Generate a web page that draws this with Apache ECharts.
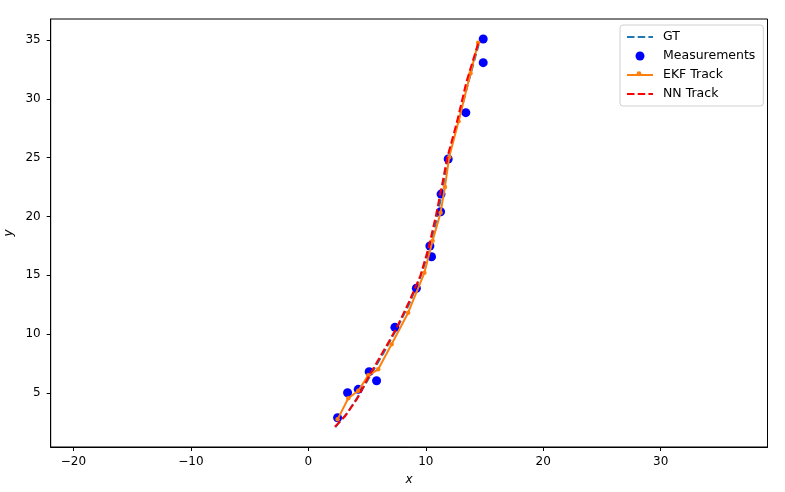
<!DOCTYPE html>
<html>
<head>
<meta charset="utf-8">
<script src="https://cdn.jsdelivr.net/npm/echarts@6/dist/echarts.min.js"></script>
<style>
html,body{margin:0;padding:0;background:#fff;}
#chart{width:785px;height:492px;}
</style>
</head>
<body>
<div id="chart"></div>
<script>
// ---- data ----
const xTicks = [-20, -10, 0, 10, 20, 30];
const yTicks = [5, 10, 15, 20, 25, 30, 35];

const gtX = [2.3, 3.3, 4.3, 5.3, 6.4, 7.5, 8.6, 9.6, 10.4, 11.0, 11.5, 12.0, 12.8, 13.6, 14.5];
const gtY = [2.1, 3.3, 4.8, 6.5, 8.4, 10.4, 12.6, 15.0, 17.5, 20.1, 22.7, 25.4, 28.2, 31.3, 34.6];

const measX = [2.49, 3.34, 4.25, 5.18, 5.81, 7.37, 9.20, 10.49, 10.35, 11.26, 11.30, 11.91, 13.41, 14.89, 14.89];
const measY = [2.90, 5.02, 5.31, 6.81, 6.04, 10.58, 13.90, 16.58, 17.49, 20.40, 21.90, 24.88, 28.82, 33.07, 35.08];

const ekfX = [2.49, 3.40, 4.25, 5.10, 5.95, 7.09, 8.50, 9.88, 10.58, 11.26, 11.63, 11.99, 12.79, 13.81, 14.46];
const ekfY = [2.76, 4.55, 5.19, 6.50, 7.01, 9.14, 11.82, 15.21, 17.94, 20.32, 22.50, 25.03, 28.10, 32.17, 34.77];

const nnX = [2.26, 3.15, 4.15, 5.25, 6.35, 7.45, 8.60, 9.55, 10.25, 10.85, 11.35, 11.85, 12.65, 13.45, 14.46];
const nnY = [2.13, 3.05, 4.50, 6.60, 8.50, 10.40, 12.80, 15.00, 17.40, 20.00, 22.50, 25.10, 28.00, 31.40, 34.70];

const xMin = -21.94, xMax = 39.1;
const yMin = 0.41, yMax = 36.78;

function pairs(xs, ys) { return xs.map((x, i) => [x, ys[i]]); }

const font = 'DejaVu Sans';
const legendLeft = 620, legendTop = 25, legendPadTop = 5.5, legendPadLeft = 6;
const itemW = 26, rowH = 12.5, itemGap = 6;

const chart = echarts.init(document.getElementById('chart'), null, {renderer: 'canvas'});
chart.setOption({
  animation: false,
  backgroundColor: '#fff',
  grid: {
    left: 50.7, top: 19, right: 17.5, bottom: 45,
    show: true, borderColor: '#000', borderWidth: 1, backgroundColor: 'transparent',
    containLabel: false, outerBoundsMode: 'none'
  },
  xAxis: {
    type: 'value', min: xMin, max: xMax,
    name: 'x', nameLocation: 'middle', nameGap: 27,
    nameTextStyle: {fontFamily: font, fontSize: 12, fontStyle: 'italic', color: '#000'},
    axisLine: {show: true, onZero: false, lineStyle: {color: '#000', width: 1}},
    axisTick: {show: true, length: 4, lineStyle: {color: '#000'}, customValues: xTicks},
    axisLabel: {fontFamily: font, fontSize: 12, color: '#000', margin: 9, customValues: xTicks,
      formatter: v => (v < 0 ? '\u2212' + Math.abs(v) : String(v))},
    splitLine: {show: false}
  },
  yAxis: {
    type: 'value', min: yMin, max: yMax,
    name: 'y', nameLocation: 'middle', nameGap: 32, nameRotate: 90,
    nameTextStyle: {fontFamily: font, fontSize: 12, fontStyle: 'italic', color: '#000'},
    axisLine: {show: true, onZero: false, lineStyle: {color: '#000', width: 1}},
    axisTick: {show: true, length: 4, lineStyle: {color: '#000'}, customValues: yTicks},
    axisLabel: {fontFamily: font, fontSize: 12, color: '#000', margin: 10, customValues: yTicks},
    splitLine: {show: false}
  },
  legend: {
    orient: 'vertical', left: legendLeft, top: legendTop,
    backgroundColor: 'rgba(255,255,255,0.8)', borderColor: '#d0d0d0', borderWidth: 1, borderRadius: 3,
    padding: [legendPadTop, 8, legendPadTop, legendPadLeft], itemGap: itemGap, itemWidth: itemW, itemHeight: 9,
    textStyle: {fontFamily: font, fontSize: 12.5, color: '#000', padding: [0, 0, 0, 5]},
    data: [
      {name: 'GT', itemStyle: {opacity: 0}},
      {name: 'Measurements', icon: 'circle', itemStyle: {color: '#0000ff'}},
      {name: 'EKF Track', itemStyle: {opacity: 0}},
      {name: 'NN Track', itemStyle: {opacity: 0}}
    ]
  },
  graphic: [{
    type: 'circle', silent: true, z: 100,
    shape: {cx: legendLeft + legendPadLeft + itemW / 2, cy: legendTop + legendPadTop + 2 * (rowH + itemGap) + rowH / 2, r: 2.4},
    style: {fill: '#ff7f0e'}
  }],
  series: [
    {
      name: 'GT', type: 'line', data: pairs(gtX, gtY), symbol: 'none',
      lineStyle: {color: '#1f77b4', width: 2, type: [7.5, 3.2]}, itemStyle: {color: '#1f77b4'}, z: 2
    },
    {
      name: 'Measurements', type: 'scatter', data: pairs(measX, measY), symbol: 'circle', symbolSize: 9,
      itemStyle: {color: '#0000ff', opacity: 1}, z: 3
    },
    {
      name: 'EKF Track', type: 'line', data: pairs(ekfX, ekfY), symbol: 'circle', symbolSize: 4.5,
      showSymbol: true, lineStyle: {color: '#ff7f0e', width: 2}, itemStyle: {color: '#ff7f0e'}, z: 4
    },
    {
      name: 'NN Track', type: 'line', data: pairs(nnX, nnY), symbol: 'none',
      lineStyle: {color: '#ff0000', width: 2, type: [7.5, 3.2]}, itemStyle: {color: '#ff0000'}, z: 5
    }
  ]
});
</script>
</body>
</html>
